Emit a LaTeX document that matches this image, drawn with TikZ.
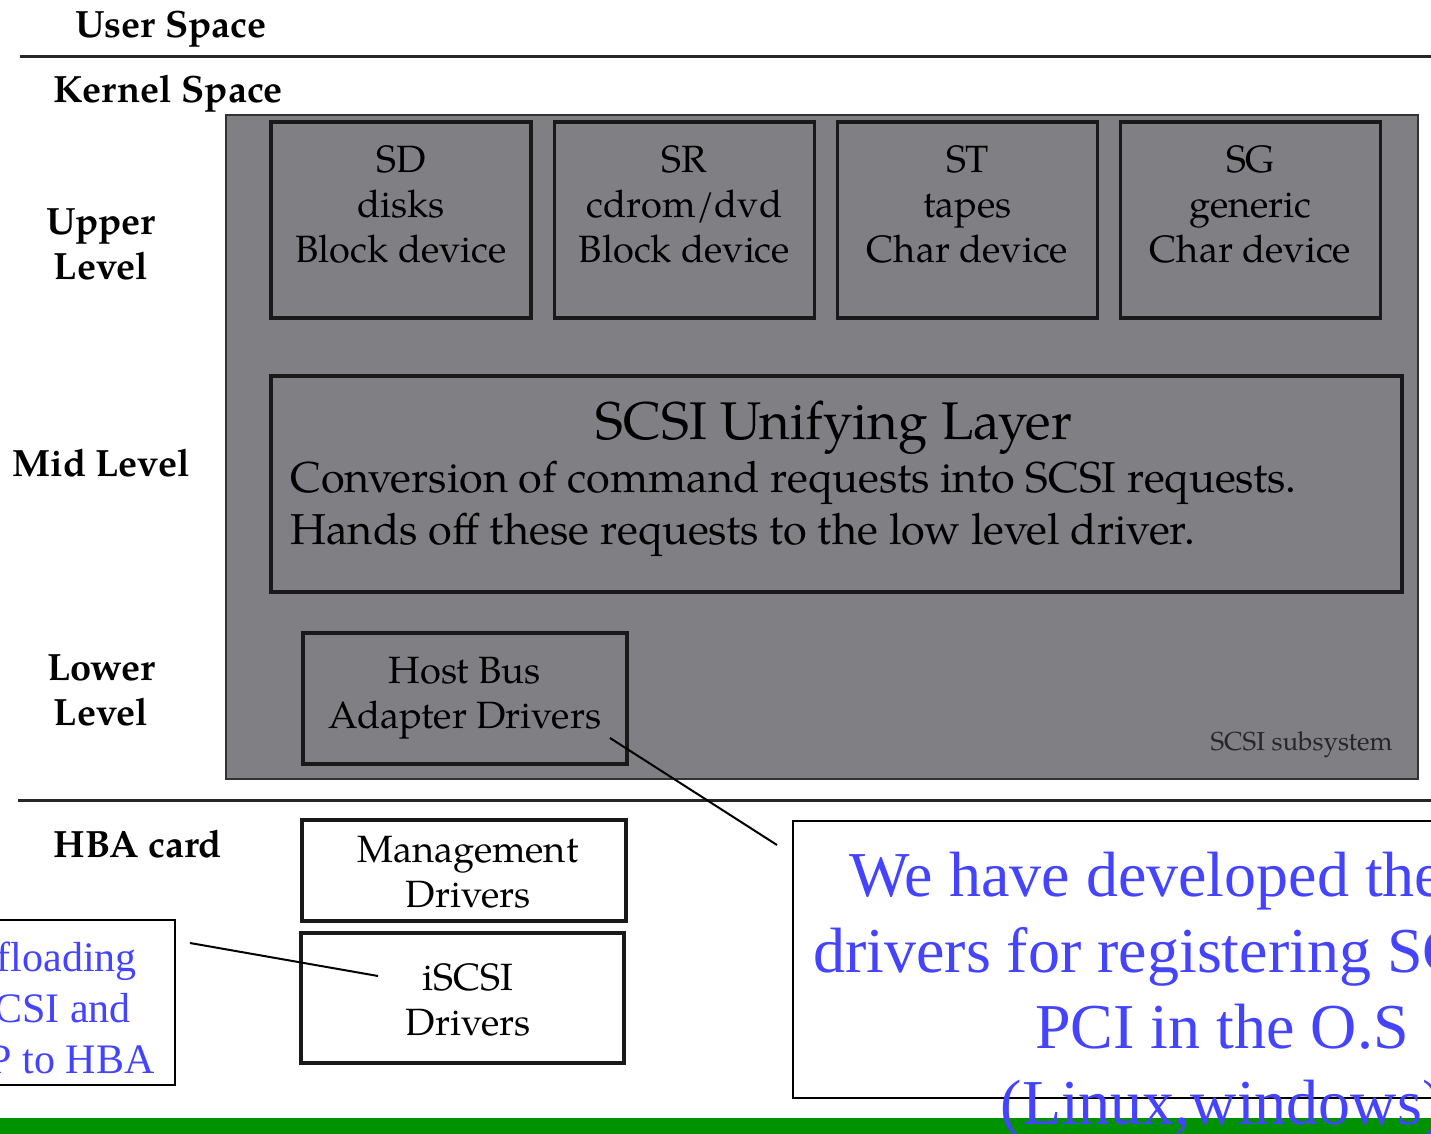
\documentclass[tikz,border=0pt]{standalone}
\usepackage{fontspec}
\setmainfont{TeX Gyre Pagella}
\newfontfamily\notefont{Liberation Serif}
\usepackage{tikz}
\definecolor{scsigray}{RGB}{128,127,131}
\definecolor{scsiedge}{RGB}{50,50,50}
\definecolor{noteblue}{RGB}{68,68,255}
\definecolor{bargreen}{RGB}{0,146,0}

\begin{document}
\begin{tikzpicture}[x=0.5pt,y=-0.5pt,
  devbox/.style={draw=black!90, line width=1.6pt, inner sep=0pt, align=center,
    font=\fontsize{19}{22.5}\selectfont},
  boxtext/.style={align=center, inner sep=0pt, font=\fontsize{19}{22.5}\selectfont},
  lvl/.style={align=center, inner sep=0pt, font=\fontsize{19}{22.5}\selectfont\bfseries},
  note/.style={draw=black, line width=1.2pt, fill=white, inner sep=0pt},
  notetext/.style={text=noteblue, align=center, inner sep=0pt}]
\useasboundingbox (0,0) rectangle (1431,1134);
\clip (0,0) rectangle (1431,1134);

% Space separators
\draw[line width=1.5pt, black!85] (20,57) -- (1431,57);
\draw[line width=1.5pt, black!85] (18,800) -- (1431,800);

% Level labels
\node[lvl, anchor=base west] (userspace) at (75,38) {User Space};
\node[lvl, anchor=base west] (kernelspace) at (53,103) {Kernel Space};
\node[lvl] (upper) at (101,244) {Upper\\Level};
\node[lvl, anchor=base west] (mid) at (12,477) {Mid Level};
\node[lvl] (lower) at (101,690) {Lower\\Level};
\node[lvl, anchor=base west] (hbacard) at (53,857) {HBA card};

% SCSI subsystem
\node[draw=scsiedge, line width=0.9pt, fill=scsigray, minimum width=596pt,
  minimum height=332pt, inner sep=0pt] (subsys) at (822,447) {};
\node[anchor=base east, inner sep=0pt, text=black!85,
  font=\fontsize{13}{15}\selectfont] (subsyslabel) at (1393,750) {SCSI subsystem};

% Upper level drivers
\node[devbox, minimum width=130pt, minimum height=98pt] (sd) at (401,220) {};
\node[boxtext] at (401,204) {SD\\disks\\Block device};

\node[devbox, minimum width=130pt, minimum height=98pt] (sr) at (684.5,220) {};
\node[boxtext] at (684.5,204) {SR\\cdrom/dvd\\Block device};

\node[devbox, minimum width=130pt, minimum height=98pt] (st) at (967.5,220) {};
\node[boxtext] at (967.5,204) {ST\\tapes\\Char device};

\node[devbox, minimum width=130pt, minimum height=98pt] (sg) at (1250.5,220) {};
\node[boxtext] at (1250.5,204) {SG\\generic\\Char device};

% Mid level
\node[devbox, minimum width=565.5pt, minimum height=108pt] (unify) at (836.5,484) {};
\node[anchor=base, inner sep=0pt, font=\fontsize{26.5}{30}\selectfont]
  (unifytitle) at (834,440) {SCSI Unifying Layer};
\node[anchor=base west, inner sep=0pt, font=\fontsize{21.6}{25}\selectfont]
  (unifyline1) at (290,493) {Conversion of command requests into SCSI requests.};
\node[anchor=base west, inner sep=0pt, font=\fontsize{21.6}{25}\selectfont]
  (unifyline2) at (290,544) {Hands off these requests to the low level driver.};

% Lower level
\node[devbox, minimum width=162pt, minimum height=65.5pt] (hbadrv) at (465,698.5)
  {Host Bus\\Adapter Drivers};

% HBA card
\node[devbox, fill=white, minimum width=162pt, minimum height=50.5pt] (mgmt)
  at (464,870.5) {};
\node[boxtext] at (468,872) {Management\\Drivers};
\node[devbox, fill=white, minimum width=161.5pt, minimum height=65pt] (iscsi)
  at (462.5,998) {};
\node[boxtext] at (468,1000) {iSCSI\\Drivers};

% Bottom bar
\fill[bargreen] (0,1118) rectangle (1431,1134);

% Callouts
\node[note, minimum width=128pt, minimum height=82.5pt] (offload) at (47,1002.5) {};
\node[notetext, font=\notefont\fontsize{21}{25.5}\selectfont] (offloadtext)
  at (45,1008) {Offloading\\iSCSI and\\TCP to HBA};

\node[note, minimum width=429pt, minimum height=138.5pt] (hbanote) at (1222,959.5) {};
\node[notetext, font=\notefont\fontsize{32}{38}\selectfont] (hbanotetext)
  at (1222,995) {We have developed the HBA\\drivers for registering SCSI and\\PCI in the O.S\\(Linux,windows)};

\coordinate (offtail) at (190,943);
\coordinate (iscsitip) at (378,976);
\coordinate (hbatail) at (610,738);
\coordinate (notetip) at (777,845);
\draw[line width=1pt] (offtail) -- (iscsitip);
\draw[line width=1pt] (hbatail) -- (notetip);
\end{tikzpicture}
\end{document}
